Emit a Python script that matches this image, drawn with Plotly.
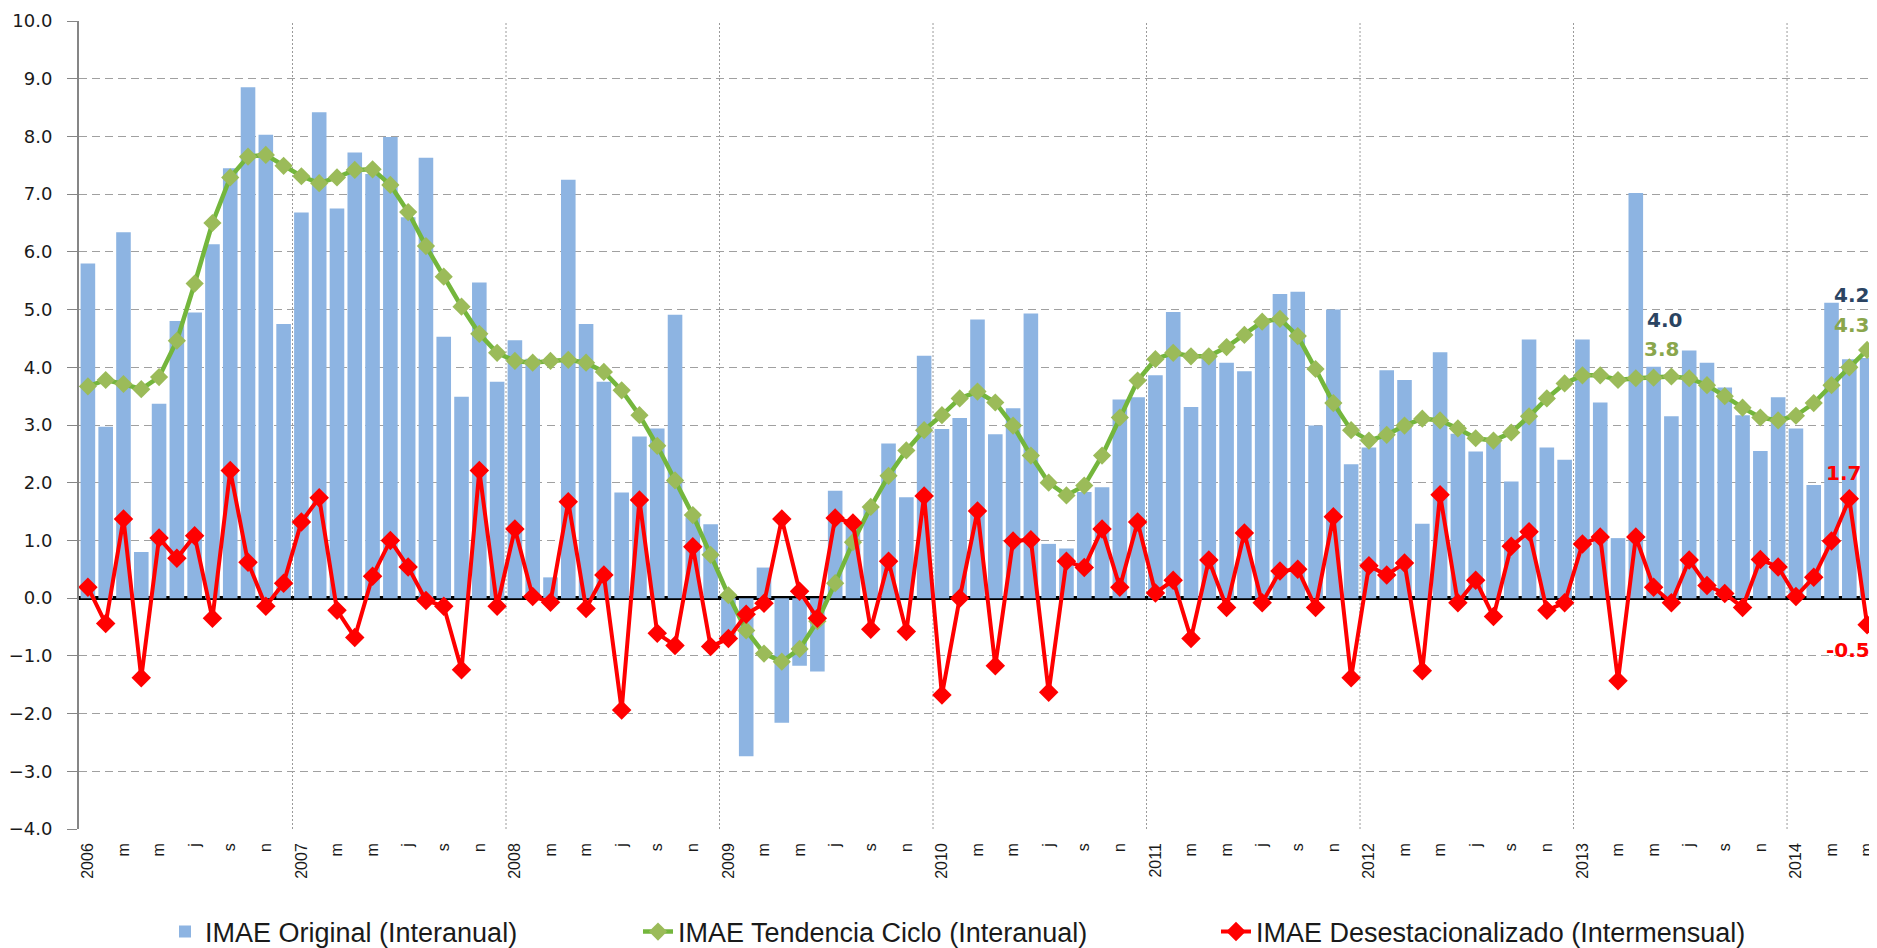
import plotly.graph_objects as go

# ---------------- data ----------------
years = [2006, 2007, 2008, 2009, 2010, 2011, 2012, 2013, 2014]
month_letters = ["e", "f", "m", "a", "m", "j", "j", "a", "s", "o", "n", "d"]
n_months = 101  # Jan 2006 .. May 2014

imae_original = [
    5.80, 2.97, 6.34, 0.80, 3.37, 4.80, 4.95, 6.13, 7.45, 8.85, 8.03, 4.75,
    6.68, 8.42, 6.75, 7.72, 7.35, 7.99, 6.60, 7.63, 4.53, 3.49, 5.47, 3.75,
    4.47, 4.15, 0.36, 7.25, 4.75, 3.75, 1.83, 2.80, 2.94, 4.91, 1.40, 1.28,
    -0.72, -2.74, 0.53, -2.16, -1.17, -1.27, 1.86, 1.30, 1.60, 2.68, 1.75, 4.20,
    2.93, 3.12, 4.83, 2.84, 3.29, 4.93, 0.94, 0.86, 1.84, 1.92, 3.44, 3.48,
    3.86, 4.96, 3.31, 4.22, 4.08, 3.93, 4.75, 5.27, 5.31, 2.99, 5.00, 2.32,
    2.61, 3.95, 3.78, 1.29, 4.26, 2.85, 2.54, 2.70, 2.02, 4.48, 2.61, 2.40,
    4.48, 3.39, 1.04, 7.02, 4.01, 3.15, 4.29, 4.08, 3.65, 3.17, 2.55, 3.48,
    2.94, 1.96, 5.12, 4.14, 4.16,
]

imae_tendencia = [
    3.67, 3.78, 3.71, 3.62, 3.83, 4.46, 5.45, 6.50, 7.29, 7.65, 7.68, 7.49,
    7.31, 7.19, 7.29, 7.42, 7.43, 7.16, 6.69, 6.10, 5.57, 5.05, 4.58, 4.25,
    4.11, 4.08, 4.11, 4.13, 4.08, 3.92, 3.60, 3.17, 2.64, 2.04, 1.44, 0.75,
    0.05, -0.56, -0.96, -1.10, -0.88, -0.40, 0.26, 0.97, 1.58, 2.12, 2.56, 2.91,
    3.17, 3.46, 3.58, 3.39, 2.99, 2.47, 2.00, 1.78, 1.95, 2.47, 3.13, 3.77,
    4.14, 4.25, 4.19, 4.19, 4.35, 4.56, 4.79, 4.84, 4.54, 3.97, 3.38, 2.91,
    2.73, 2.83, 2.99, 3.11, 3.08, 2.94, 2.77, 2.73, 2.87, 3.15, 3.46, 3.72,
    3.86, 3.86, 3.78, 3.81, 3.82, 3.84, 3.81, 3.69, 3.50, 3.30, 3.13, 3.08,
    3.16, 3.38, 3.69, 4.00, 4.30,
]

imae_desest = [
    0.19, -0.44, 1.37, -1.38, 1.04, 0.69, 1.08, -0.35, 2.21, 0.62, -0.14, 0.26,
    1.32, 1.74, -0.21, -0.68, 0.38, 1.00, 0.54, -0.04, -0.14, -1.24, 2.21, -0.14,
    1.20, 0.03, -0.07, 1.67, -0.18, 0.40, -1.94, 1.70, -0.61, -0.82, 0.89, -0.84,
    -0.70, -0.28, -0.09, 1.37, 0.12, -0.35, 1.39, 1.30, -0.54, 0.64, -0.58, 1.77,
    -1.68, 0.00, 1.51, -1.17, 0.99, 1.01, -1.63, 0.64, 0.53, 1.20, 0.19, 1.32,
    0.09, 0.31, -0.70, 0.66, -0.16, 1.13, -0.08, 0.47, 0.50, -0.16, 1.41, -1.38,
    0.56, 0.40, 0.61, -1.26, 1.79, -0.08, 0.31, -0.32, 0.90, 1.15, -0.21, -0.08,
    0.94, 1.06, -1.43, 1.06, 0.19, -0.08, 0.66, 0.22, 0.08, -0.16, 0.67, 0.54,
    0.03, 0.36, 0.99, 1.72, -0.46,
]

# categories (year-month) and tick labels
categories = []
tick_vals = []
tick_text = []
for i in range(n_months):
    y = years[i // 12]
    m = i % 12
    cat = f"{y}-{m + 1:02d}"
    categories.append(cat)
    if m % 2 == 0:
        tick_vals.append(cat)
        tick_text.append(str(y) if m == 0 else month_letters[m])

C_BAR = "#8DB4E2"
C_GREEN_LINE = "#74B63C"
C_GREEN_MK = "#9BBB59"
C_RED = "#FF0000"
C_LBL_BLUE = "#2B4462"
C_LBL_GREEN = "#8AA64C"

# page body has an 8px margin: figure is sized/offset to compensate
OFF = 8
FIG_W, FIG_H = 1877 - OFF, 948 - OFF

fig = go.Figure()

fig.add_trace(go.Bar(
    x=categories, y=imae_original, name="IMAE Original (Interanual)",
    marker=dict(color=C_BAR, line=dict(width=0)),
    legend="legend",
))
fig.add_trace(go.Scatter(
    x=categories, y=imae_tendencia, name="IMAE Tendencia Ciclo (Interanual)",
    mode="lines+markers",
    line=dict(color=C_GREEN_LINE, width=4.5),
    marker=dict(symbol="diamond", size=14, color=C_GREEN_MK),
    legend="legend2",
))
fig.add_trace(go.Scatter(
    x=categories, y=imae_desest, name="IMAE Desestacionalizado (Intermensual)",
    mode="lines+markers",
    line=dict(color=C_RED, width=4),
    marker=dict(symbol="diamond", size=15, color=C_RED),
    legend="legend3",
))

# data labels
label_specs = [
    (imae_original, 88, C_LBL_BLUE, 11, 47),
    (imae_tendencia, 88, C_LBL_GREEN, 8, 29),
    (imae_original, 100, C_LBL_BLUE, -16, 63),
    (imae_tendencia, 100, C_LBL_GREEN, -16, 25),
    (imae_desest, 99, C_RED, -6, 26),
    (imae_desest, 100, C_RED, -19, -25),
]
for series, idx, col, xs, ys in label_specs:
    fig.add_annotation(
        x=categories[idx], y=series[idx], text=f"{series[idx]:.1f}",
        showarrow=False, xshift=xs, yshift=ys,
        font=dict(family="DejaVu Sans", size=20, color=col, weight="bold"),
    )

# year separators (dotted vertical lines)
for i in range(12, n_months, 12):
    fig.add_shape(
        type="line", xref="x", yref="paper", x0=i - 0.5, x1=i - 0.5, y0=0, y1=1,
        line=dict(color="#9A9A9A", width=1, dash="2px,2px"), layer="below",
    )

legend_common = dict(
    orientation="h", xref="container", yref="container",
    y=1 - (932 - OFF) / FIG_H, xanchor="left", yanchor="middle",
    font=dict(family="Liberation Sans, Arial", size=27, color="#1A1A1A"),
    bgcolor="rgba(0,0,0,0)",
)

fig.update_layout(
    width=FIG_W, height=FIG_H,
    margin=dict(l=77 - OFF, r=1, t=21 - OFF, b=119),
    plot_bgcolor="white", paper_bgcolor="white",
    bargap=0.18,
    showlegend=True,
    legend=dict(x=(165 - OFF) / FIG_W, **legend_common),
    legend2=dict(x=(638 - OFF) / FIG_W, **legend_common),
    legend3=dict(x=(1216 - OFF) / FIG_W, **legend_common),
    xaxis=dict(
        type="category", categoryorder="array", categoryarray=categories,
        range=[-0.5, n_months - 0.5],
        tickmode="array", tickvals=tick_vals, ticktext=tick_text,
        tickangle=-90, ticks="", showgrid=False, showline=False, zeroline=False,
        tickfont=dict(family="Liberation Sans, Arial", size=16, color="#1A1A1A"),
        ticklabelstandoff=10,
    ),
    yaxis=dict(
        range=[-4, 10], dtick=1, tick0=0, tickformat=".1f",
        showgrid=True, gridcolor="#A0A0A0", gridwidth=1, griddash="8px,5px",
        zeroline=True, zerolinecolor="black", zerolinewidth=4,
        showline=True, linecolor="#868686", linewidth=2,
        ticks="outside", ticklen=10, tickcolor="#868686", tickwidth=1,
        tickfont=dict(family="DejaVu Sans", size=18, color="#1A1A1A"),
        ticklabelstandoff=11,
    ),
)

fig.write_html("out.html")
